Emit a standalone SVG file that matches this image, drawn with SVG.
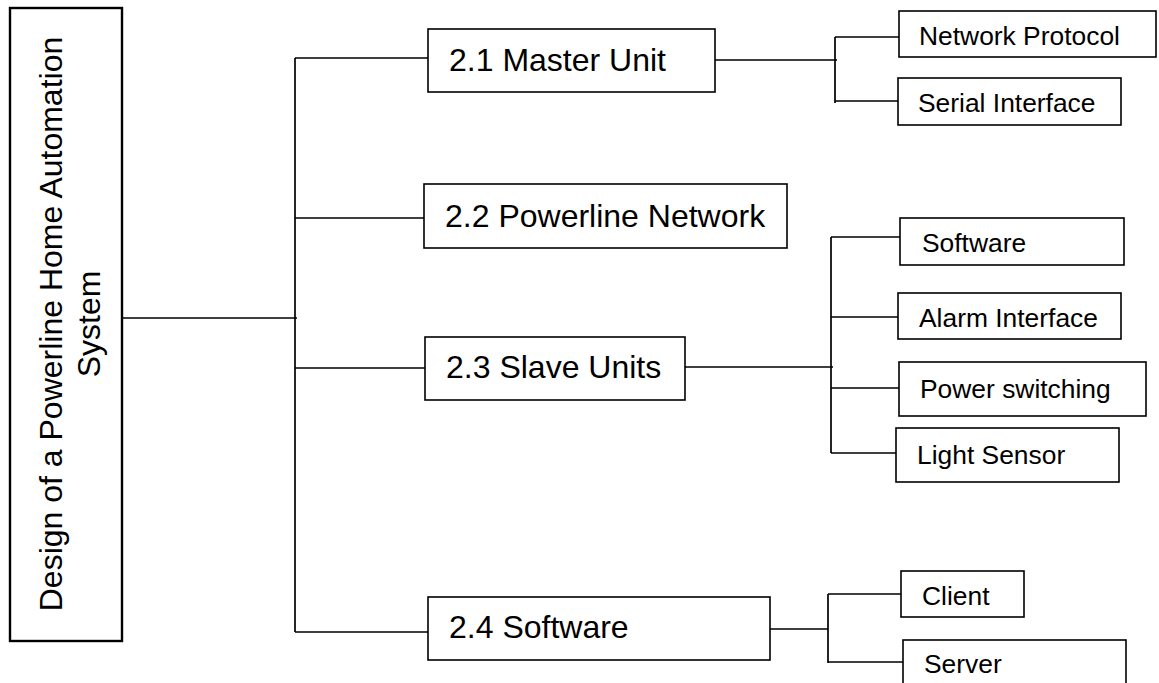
<svg xmlns="http://www.w3.org/2000/svg" width="1159" height="683" viewBox="0 0 1159 683">
<style>
.box{fill:#fff;stroke:#000;stroke-width:1.6}
.root{stroke-width:2.4}
.main{font-family:"Liberation Sans",Arial,sans-serif;font-size:32px;fill:#000}
.sub{font-family:"Liberation Sans",Arial,sans-serif;font-size:26.4px;fill:#000}
#connectors path{fill:none;stroke:#000;stroke-width:1.7}
</style>
<rect x="0" y="0" width="1159" height="683" fill="#fff"/>
<g id="connectors">
<path d="M122,318 H297"/>
<path d="M295,58 V632"/>
<path d="M295,58 H428 M295,218 H424 M295,368 H425 M295,632 H428"/>
<path d="M715,60 H837 M835,37 V103 M835,37 H899 M835,101 H898"/>
<path d="M685,367 H833 M831,237 V453 M831,237 H900 M831,317 H898 M831,388 H899 M831,453 H896"/>
<path d="M770,629 H828 M828,594 V663 M828,594 H901 M828,662 H903"/>
</g>
<g id="root">
<rect class="box root" x="10" y="8" width="112" height="633"/>
<text class="main" text-anchor="middle" transform="translate(62,324) rotate(-90)">Design of a Powerline Home Automation</text>
<text class="main" text-anchor="middle" transform="translate(100,324) rotate(-90)">System</text>
</g>
<g id="n21"><rect class="box" x="428" y="29" width="287" height="63"/><text class="main" x="449" y="71">2.1 Master Unit</text></g>
<g id="n22"><rect class="box" x="424" y="184" width="363" height="64"/><text class="main" x="445" y="227">2.2 Powerline Network</text></g>
<g id="n23"><rect class="box" x="425" y="337" width="260" height="63"/><text class="main" x="446" y="378">2.3 Slave Units</text></g>
<g id="n24"><rect class="box" x="428" y="597" width="342" height="63"/><text class="main" x="449" y="638">2.4 Software</text></g>
<g id="netproto"><rect class="box" x="899" y="11" width="257" height="46"/><text class="sub" x="919" y="45">Network Protocol</text></g>
<g id="serial"><rect class="box" x="898" y="78" width="223" height="47"/><text class="sub" x="918" y="112">Serial Interface</text></g>
<g id="swsub"><rect class="box" x="900" y="218" width="224" height="47"/><text class="sub" x="922" y="252">Software</text></g>
<g id="alarm"><rect class="box" x="898" y="293" width="223" height="46"/><text class="sub" x="919" y="327">Alarm Interface</text></g>
<g id="power"><rect class="box" x="899" y="362" width="247" height="54"/><text class="sub" x="920" y="398">Power switching</text></g>
<g id="light"><rect class="box" x="896" y="428" width="223" height="54"/><text class="sub" x="917" y="464">Light Sensor</text></g>
<g id="client"><rect class="box" x="901" y="571" width="123" height="46"/><text class="sub" x="922" y="605">Client</text></g>
<g id="server"><rect class="box" x="903" y="640" width="223" height="60"/><text class="sub" x="924" y="673">Server</text></g>
</svg>
